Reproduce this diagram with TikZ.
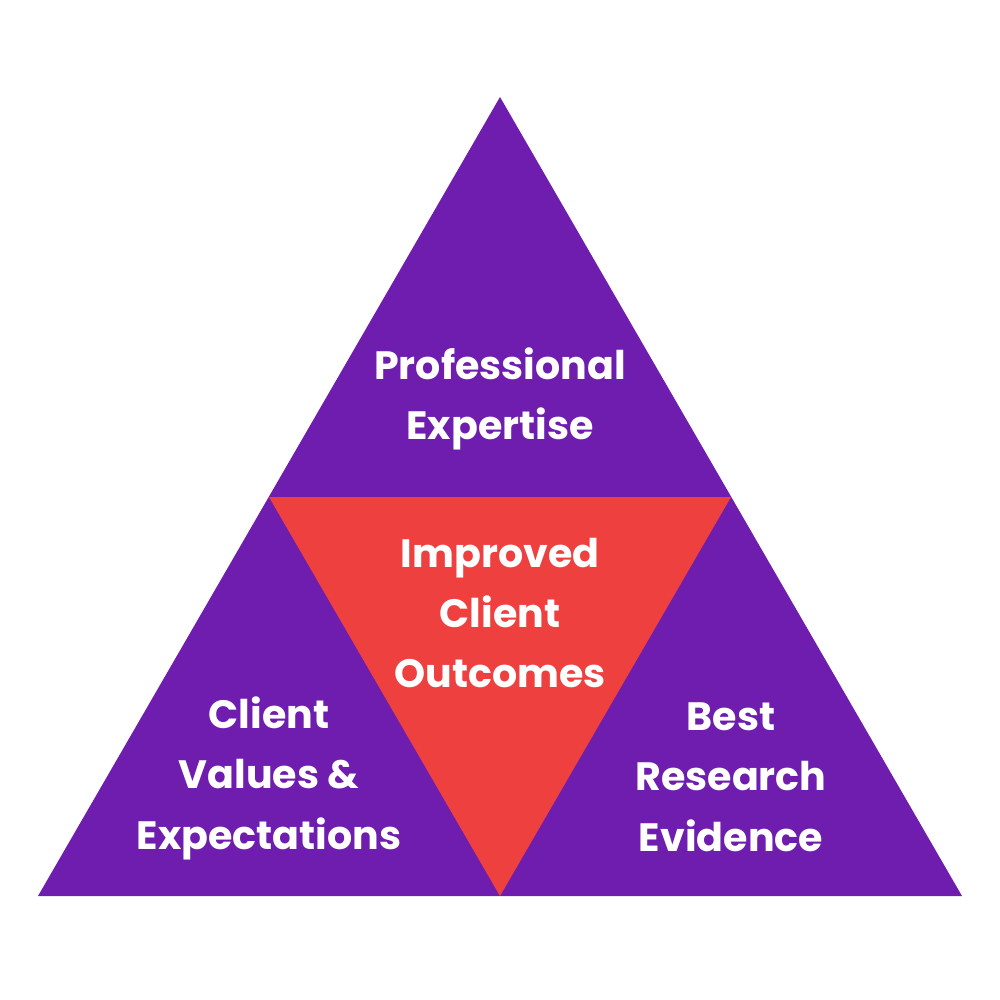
\documentclass[tikz,border=0pt]{standalone}
\usepackage{fontspec}
\setmainfont{Poppins}[BoldFont={* Bold}]
\begin{document}
\begin{tikzpicture}[x=0.01cm,y=-0.01cm,
  tri/.style={fill=purple1,draw=none},
  lab/.style={text=white,font=\bfseries\fontsize{11.25}{17.2}\selectfont,align=center}]
\definecolor{purple1}{HTML}{6F1DAE}
\definecolor{red1}{HTML}{EF4040}
\useasboundingbox (0,0) rectangle (1000,1000);
\coordinate (A) at (500,97);
\coordinate (B) at (38,896);
\coordinate (C) at (962,896);
\coordinate (L) at (269,497);
\coordinate (R) at (731,497);
\coordinate (M) at (500,896);
\fill[purple1] (A)--(B)--(C)--cycle;
\fill[red1] (L)--(R)--(M)--cycle;
\node[lab] (pe) at (500,399) {Professional\\Expertise};
\node[lab] (ic) at (500,613) {Improved\\Client\\Outcomes};
\node[lab] (cv) at (269,778) {Client\\Values \&\\Expectations};
\node[lab] (br) at (731,777) {Best\\Research\\Evidence};
\end{tikzpicture}
\end{document}
